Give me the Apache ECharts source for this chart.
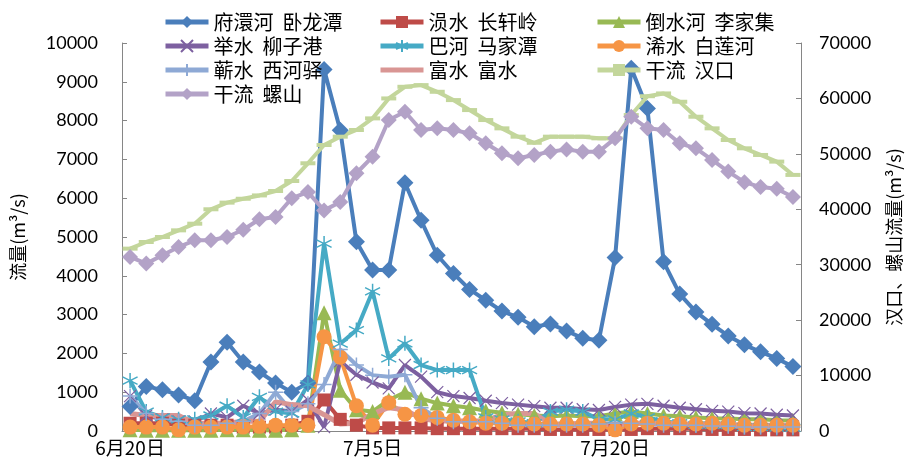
<!DOCTYPE html>
<html>
<head>
<meta charset="utf-8">
<script src="https://cdn.jsdelivr.net/npm/echarts@6/dist/echarts.min.js"></script>
<style>
  html, body { margin: 0; padding: 0; background: #fff; }
  #main { width: 914px; height: 467px; }
</style>
</head>
<body>
<div id="main"></div>
<script>
// 日期 6月20日 ~ 7月31日
const days = [];
for (let d = 20; d <= 30; d++) days.push('6月' + d + '日');
for (let d = 1; d <= 31; d++) days.push('7月' + d + '日');

// 支流流量 (左轴)
const fuhuan = [630, 1150, 1060, 930, 780, 1780, 2290, 1780, 1520, 1240, 1000, 1240, 9320, 7750, 4880, 4150, 4150, 6400, 5430, 4530, 4060, 3650, 3370, 3090, 2930, 2690, 2760, 2580, 2390, 2340, 4470, 9350, 8310, 4360, 3530, 3070, 2750, 2450, 2220, 2040, 1870, 1660];
const yunshui = [200, 200, 200, 150, 150, 150, 150, 100, 100, 100, 150, 250, 800, 300, 150, 80, 80, 80, 80, 60, 60, 60, 60, 60, 60, 60, 40, 40, 40, 40, 40, 40, 60, 60, 60, 60, 40, 40, 40, 30, 30, 30];
const daoshui = [30, 20, 20, 20, 20, 20, 30, 30, 20, 20, 30, 150, 3050, 1050, 550, 500, 800, 1000, 830, 720, 650, 600, 520, 470, 430, 400, 380, 400, 380, 380, 450, 500, 450, 400, 380, 350, 330, 320, 300, 300, 280, 270];
const jushui = [900, 400, 300, 250, 250, 450, 350, 650, 450, 550, 500, 800, 100, 1800, 1450, 1250, 1100, 1700, 1400, 1000, 900, 850, 780, 720, 680, 640, 600, 600, 560, 540, 620, 680, 700, 650, 600, 560, 520, 500, 460, 450, 420, 400];
const bahe = [1300, 500, 350, 300, 300, 400, 650, 350, 880, 500, 450, 1200, 4830, 2250, 2600, 3600, 1870, 2260, 1700, 1570, 1570, 1570, 350, 300, 250, 200, 500, 550, 500, 300, 300, 450, 350, 250, 200, 150, 150, 150, 100, 100, 80, 80];
const xishui = [100, 100, 100, 30, 100, 100, 100, 100, 120, 150, 150, 150, 2430, 1900, 650, 150, 730, 430, 400, 350, 280, 240, 200, 200, 200, 180, 180, 180, 180, 150, 30, 180, 200, 200, 180, 180, 200, 180, 150, 150, 150, 150];
const qishui = [900, 450, 300, 250, 150, 150, 200, 250, 450, 1000, 500, 700, 1200, 2100, 1700, 1440, 1400, 1450, 600, 330, 240, 240, 240, 200, 150, 150, 150, 150, 150, 180, 200, 200, 180, 150, 150, 150, 130, 120, 100, 100, 100, 100];
const fushui = [450, 400, 400, 400, 200, 200, 200, 250, 250, 750, 680, 650, 420, 180, 200, 450, 600, 550, 320, 260, 260, 260, 260, 420, 450, 450, 180, 180, 200, 200, 150, 200, 200, 200, 180, 180, 170, 160, 150, 150, 150, 150];

// 干流流量 (右轴)
const hankou = [32900, 34100, 35000, 36200, 37400, 40000, 41200, 41900, 42500, 43300, 45100, 48300, 51600, 53100, 54300, 56400, 60000, 62100, 62400, 61200, 59700, 57900, 56100, 54600, 53100, 52000, 53100, 53100, 53100, 52800, 52800, 57000, 60400, 60900, 59400, 56700, 54600, 52500, 51000, 49800, 48600, 46200];
const luoshan = [31400, 30200, 31700, 33200, 34400, 34400, 35000, 36300, 38200, 38600, 42000, 43100, 39800, 41300, 46500, 49500, 56100, 57600, 54300, 54600, 54300, 53700, 51900, 50100, 49200, 49800, 50400, 50800, 50400, 50400, 52800, 56700, 54600, 54300, 51900, 51000, 48900, 46800, 44900, 44000, 43700, 42200];

const names = ['府澴河  卧龙潭', '涢水  长轩岭', '倒水河  李家集', '举水  柳子港', '巴河  马家潭',
  '浠水  白莲河', '蕲水  西河驿', '富水  富水', '干流  汉口', '干流  螺山'];

const cjk = 'Noto Sans CJK SC';
const numFont = 'Lato';

function line(name, data, color, symbol, size, extra) {
  return Object.assign({
    name: name,
    type: 'line',
    data: data,
    symbol: symbol,
    symbolSize: size,
    showSymbol: symbol !== 'none',
    showAllSymbol: true,
    lineStyle: { color: color, width: 4 },
    itemStyle: { color: color },
    emphasis: { disabled: true }
  }, extra || {});
}

// 自定义标记: 叉、星号、十字
const xMark = 'path://M0,0L10,10M10,0L0,10';
const starMark = 'path://M5,0L5,10M0,2.5L10,7.5M0,7.5L10,2.5';
const plusMark = 'path://M5,0L5,10M0,5L10,5';

const chart = echarts.init(document.getElementById('main'));

const legendBase = {
  orient: 'vertical',
  top: 12,
  itemGap: 4,
  itemWidth: 43,
  itemHeight: 15,
  padding: 0,
  lineStyle: { width: 5 },
  textStyle: { fontFamily: cjk, fontSize: 20, lineHeight: 20, color: '#000' }
};

const plain = v => String(v);

chart.setOption({
  animation: false,
  backgroundColor: '#fff',
  grid: { left: 122, right: 113, top: 43, bottom: 36 },
  legend: [
    Object.assign({ left: 163, data: [names[0], names[3], names[6], names[9]] }, legendBase),
    Object.assign({ left: 378, data: [names[1], names[4], { name: names[7], itemStyle: { opacity: 0 } }] }, legendBase),
    Object.assign({ left: 595, data: [names[2], names[5], names[8]] }, legendBase)
  ],
  xAxis: {
    type: 'category',
    data: days,
    boundaryGap: true,
    axisLine: { lineStyle: { color: '#868686' } },
    axisTick: { show: false },
    axisLabel: { interval: 14, fontFamily: cjk, fontSize: 19, color: '#000', margin: 7 }
  },
  yAxis: [
    {
      type: 'value', min: 0, max: 10000, interval: 1000,
      name: '流量(m³/s)', nameLocation: 'middle', nameRotate: 90, nameGap: 95,
      nameTextStyle: { fontFamily: cjk, fontSize: 18, color: '#000' },
      axisLine: { show: true, lineStyle: { color: '#868686' } },
      axisTick: { show: true, inside: true, length: 5, lineStyle: { color: '#868686' } },
      axisLabel: { fontFamily: numFont, fontSize: 18, color: '#000', margin: 24, formatter: plain },
      splitLine: { show: false }
    },
    {
      type: 'value', min: 0, max: 70000, interval: 10000,
      name: '汉口、螺山流量(m³/s)', nameLocation: 'middle', nameRotate: 90, nameGap: 84,
      nameTextStyle: { fontFamily: cjk, fontSize: 18, color: '#000' },
      axisLine: { show: true, lineStyle: { color: '#868686' } },
      axisTick: { show: true, inside: true, length: 5, lineStyle: { color: '#868686' } },
      axisLabel: { fontFamily: numFont, fontSize: 18, color: '#000', margin: 18, formatter: plain },
      splitLine: { show: false }
    }
  ],
  series: [
    line(names[0], fuhuan, '#4A7EBB', 'diamond', 17),
    line(names[1], yunshui, '#BE4B48', 'rect', 13),
    line(names[2], daoshui, '#98B954', 'triangle', 15),
    line(names[3], jushui, '#7D60A0', xMark, 12, {
      itemStyle: { color: '#7D60A0', borderColor: '#7D60A0', borderWidth: 1.2 }
    }),
    line(names[4], bahe, '#46AAC5', starMark, 15, {
      itemStyle: { color: '#46AAC5', borderColor: '#46AAC5', borderWidth: 1.5 }
    }),
    line(names[5], xishui, '#F69545', 'circle', 15),
    line(names[6], qishui, '#8EA9D5', plusMark, 15, {
      itemStyle: { color: '#8EA9D5', borderColor: '#8EA9D5', borderWidth: 1.5 }
    }),
    line(names[7], fushui, '#D99694', 'none', 0, {
      lineStyle: { color: '#D99694', width: 5 }
    }),
    line(names[8], hankou, '#C3D69B', 'rect', [15, 4], { yAxisIndex: 1 }),
    line(names[9], luoshan, '#B3A2C7', 'diamond', 16, { yAxisIndex: 1 })
  ]
});
</script>
</body>
</html>
